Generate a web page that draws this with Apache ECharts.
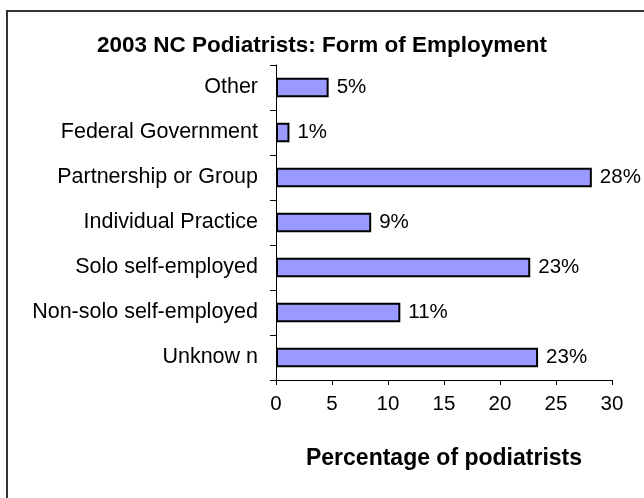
<!DOCTYPE html>
<html>
<head>
<meta charset="utf-8">
<script src="https://cdn.jsdelivr.net/npm/echarts@6/dist/echarts.min.js"></script>
<style>
  html, body { margin: 0; padding: 0; background: #fff; }
  #chart { width: 644px; height: 498px; }
</style>
</head>
<body>
<div id="chart"></div>
<script>
const titleText = '2003 NC Podiatrists: Form of Employment';
const axisName = 'Percentage of podiatrists';
const categories = ['Other', 'Federal Government', 'Partnership or Group', 'Individual Practice', 'Solo self-employed', 'Non-solo self-employed', 'Unknow n'];
const values = [4.7, 1.2, 28.2, 8.5, 22.7, 11.1, 23.4];
const valueLabels = ['5%', '1%', '28%', '9%', '23%', '11%', '23%'];
const xTicks = [0, 5, 10, 15, 20, 25, 30];

const font = 'Liberation Sans, Arial, sans-serif';
const chart = echarts.init(document.getElementById('chart'), null, { renderer: 'canvas' });
chart.setOption({
  animation: false,
  backgroundColor: '#ffffff',
  title: {
    text: titleText,
    left: 'center',
    top: 29,
    textStyle: { fontFamily: font, fontSize: 22.5, fontWeight: 'bold', color: '#000' }
  },
  graphic: [{
    type: 'rect',
    shape: { x: 7, y: 11, width: 700, height: 600 },
    style: { fill: 'none', stroke: '#333', lineWidth: 2 },
    silent: true
  }],
  grid: { left: 276, right: 32, top: 65, bottom: 118, containLabel: false, outerBoundsMode: 'none' },
  xAxis: {
    type: 'value',
    min: xTicks[0],
    max: xTicks[xTicks.length - 1],
    interval: 5,
    name: axisName,
    nameLocation: 'middle',
    nameGap: 67,
    nameTextStyle: { fontFamily: font, fontSize: 23, fontWeight: 'bold', color: '#000' },
    axisLine: { show: true, lineStyle: { color: '#000', width: 1 } },
    axisTick: { show: true, length: 5, lineStyle: { color: '#000' } },
    axisLabel: { margin: 14, fontFamily: font, fontSize: 20.5, color: '#000' },
    splitLine: { show: false }
  },
  yAxis: {
    type: 'category',
    inverse: true,
    data: categories,
    axisLine: { show: true, lineStyle: { color: '#000', width: 1 } },
    axisTick: { show: true, length: 6, lineStyle: { color: '#000' } },
    axisLabel: { margin: 18, fontFamily: font, fontSize: 21.5, color: '#000' }
  },
  series: [{
    type: 'bar',
    data: values,
    barWidth: '43%',
    itemStyle: { color: '#9999ff', borderColor: '#000', borderWidth: 2 },
    label: {
      show: true,
      position: 'right',
      distance: 8,
      fontFamily: font,
      fontSize: 20.5,
      color: '#000',
      formatter: p => valueLabels[p.dataIndex]
    }
  }]
});
</script>
</body>
</html>
